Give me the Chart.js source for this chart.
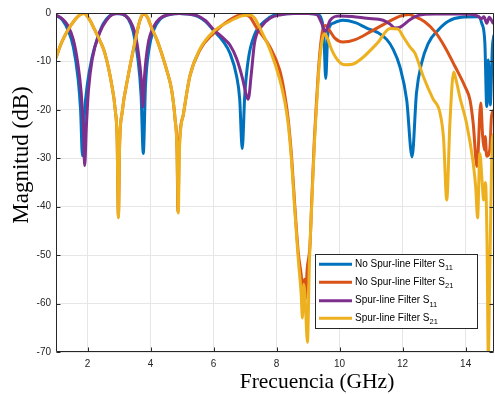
<!DOCTYPE html>
<html>
<head>
<meta charset="utf-8">
<script src="https://cdn.jsdelivr.net/npm/chart.js@4/dist/chart.umd.min.js"></script>
<style>
html,body{margin:0;padding:0;background:#fff;}
#wrap{width:495px;height:394px;}
</style>
</head>
<body>
<div id="wrap"><canvas id="c" width="495" height="394"></canvas></div>
<script>
// ---- data (frequency GHz, magnitude dB) ----
const xTicks = [2, 4, 6, 8, 10, 12, 14];
const yTicks = [-70, -60, -50, -40, -30, -20, -10, 0];
const seriesNames = ['No Spur-line Filter S', 'No Spur-line Filter S', 'Spur-line Filter S', 'Spur-line Filter S'];
const seriesSubs = ['11', '21', '11', '21'];
const xLabel = 'Frecuencia (GHz)';
const yLabel = 'Magnitud (dB)';

const noSpurS11 = [[1.0,-0.5],[1.2,-1.4],[1.4,-3.8],[1.55,-7],[1.7,-13.5],[1.78,-20],[1.84,-29.5],[1.9,-21],[2.0,-14.5],[2.15,-9],[2.3,-5.5],[2.5,-2.2],[2.7,-0.6],[2.9,-0.1],[3.1,-0.2],[3.3,-1.3],[3.45,-3.8],[3.6,-9.5],[3.7,-17],[3.77,-29],[3.84,-15],[3.95,-7.5],[4.1,-3.5],[4.3,-1.3],[4.6,-0.3],[4.9,-0.1],[5.2,-0.2],[5.5,-0.7],[5.75,-1.8],[6.0,-3.6],[6.31,-5.9],[6.52,-8.3],[6.73,-13],[6.83,-17.8],[6.91,-28],[6.99,-17],[7.1,-9.7],[7.3,-4.5],[7.6,-1.8],[7.9,-0.5],[8.5,-0.1],[9.0,-0.1],[9.3,-0.3],[9.42,-1.2],[9.5,-4.5],[9.56,-13.5],[9.62,-5],[9.7,-2.6],[9.8,-2.1],[10.1,-1.5],[10.5,-2.0],[10.86,-3.1],[11.2,-4.0],[11.5,-5.5],[11.7,-7.5],[11.91,-11],[12.13,-18],[12.3,-29.7],[12.44,-16.5],[12.6,-10.4],[12.81,-6.3],[13.13,-3.5],[13.45,-1.7],[13.87,-0.9],[14.4,-0.8],[14.51,-2.1],[14.61,-6.2],[14.67,-19.3],[14.72,-9.7],[14.78,-19],[14.85,-7],[14.9,-4.5]];

const noSpurS21 = [[1.0,-9.3],[1.17,-6.2],[1.38,-3.5],[1.6,-1.4],[1.75,-0.4],[1.89,-0.1],[2.05,-1.2],[2.23,-3.5],[2.4,-5.8],[2.55,-8.3],[2.76,-14.5],[2.88,-20],[2.94,-26],[2.98,-42],[3.02,-27],[3.1,-20.5],[3.29,-13],[3.5,-6.2],[3.66,-1.6],[3.79,-0.2],[3.9,-0.9],[4.03,-3],[4.2,-5.5],[4.35,-8.3],[4.5,-11.5],[4.67,-15.9],[4.78,-22],[4.84,-28],[4.87,-41],[4.91,-28],[5.04,-21],[5.25,-13],[5.57,-7.6],[6.0,-4.2],[6.52,-1.4],[6.93,-0.3],[7.15,-0.8],[7.37,-3.1],[7.79,-7],[8.1,-11.8],[8.25,-16.5],[8.37,-22],[8.48,-30],[8.58,-40],[8.69,-49.6],[8.78,-54],[8.84,-58],[8.88,-55],[8.92,-59],[8.97,-53],[9.06,-48],[9.12,-38],[9.2,-26],[9.27,-18],[9.35,-10],[9.45,-4],[9.55,-2.6],[9.7,-3.8],[9.85,-5.2],[10.1,-6],[10.5,-5.5],[11.0,-3.8],[11.5,-2],[11.9,-0.7],[12.2,-0.3],[12.4,-0.8],[12.7,-1.8],[13.03,-3.9],[13.34,-7],[13.66,-11],[13.98,-15.2],[14.14,-18],[14.24,-22.8],[14.36,-31.7],[14.48,-18.6],[14.54,-25.5],[14.6,-28.3],[14.62,-25.5],[14.67,-29.6],[14.77,-28],[14.82,-21.4],[14.9,-20]];

const spurS11 = [[1.0,-0.4],[1.2,-1.2],[1.37,-2.5],[1.55,-5.5],[1.69,-10.3],[1.8,-16.5],[1.87,-24],[1.91,-31.5],[1.96,-24],[2.03,-16],[2.15,-9.5],[2.39,-4],[2.6,-1.5],[2.8,-0.3],[3.0,-0.1],[3.2,-0.5],[3.35,-1.6],[3.5,-4],[3.62,-8.5],[3.71,-14],[3.76,-19.4],[3.81,-13],[3.92,-6.5],[4.1,-2.8],[4.3,-1.1],[4.6,-0.3],[4.93,-0.1],[5.2,-0.2],[5.46,-0.5],[5.75,-1.6],[6.0,-3.4],[6.31,-5.2],[6.52,-6.6],[6.73,-9.4],[6.93,-13.8],[7.04,-17],[7.1,-17.8],[7.2,-12.4],[7.3,-6.2],[7.52,-2.8],[7.79,-1.1],[8.1,-0.4],[8.6,-0.1],[9.0,-0.1],[9.27,-0.3],[9.43,-2.1],[9.54,-3.9],[9.7,-1.5],[10.0,-0.6],[10.4,-0.7],[10.86,-1.1],[11.38,-1.5],[11.6,-2.3],[11.75,-3.1],[11.9,-3.0],[12.02,-2.5],[12.23,-1.4],[12.5,-0.5],[13.0,-0.2],[13.8,-0.2],[14.2,-0.3],[14.4,-0.7],[14.5,-1.2],[14.58,-0.8],[14.67,-2.1],[14.75,-0.9],[14.82,-1.5],[14.87,-2.1],[14.9,-1.4]];

const spurS21 = [[1.0,-9.3],[1.17,-6.2],[1.38,-3.5],[1.6,-1.4],[1.75,-0.4],[1.89,-0.1],[2.05,-1.2],[2.23,-3.5],[2.4,-5.8],[2.55,-8.3],[2.76,-14.5],[2.88,-20],[2.94,-26],[2.98,-42.3],[3.02,-27],[3.1,-20.5],[3.29,-13],[3.5,-6.2],[3.66,-1.6],[3.77,-0.1],[3.9,-0.8],[4.03,-3],[4.2,-5.5],[4.35,-8.3],[4.5,-11.5],[4.67,-15.9],[4.78,-22],[4.84,-28],[4.88,-41.3],[4.92,-28],[5.04,-21],[5.25,-13],[5.57,-7.4],[6.0,-3.8],[6.52,-1.7],[6.9,-0.6],[7.15,-0.4],[7.3,-1],[7.47,-3.1],[7.79,-7.6],[8.1,-13.7],[8.25,-18],[8.37,-23],[8.48,-31],[8.58,-41],[8.69,-51],[8.78,-58],[8.82,-63],[8.86,-56],[8.9,-58],[8.98,-68],[9.04,-52],[9.12,-39],[9.2,-27],[9.27,-19],[9.35,-11],[9.45,-5.5],[9.52,-4.3],[9.6,-5],[9.75,-7.6],[9.95,-9.8],[10.17,-10.7],[10.4,-10.6],[10.7,-9.4],[11.2,-6.2],[11.6,-3.2],[11.85,-3.3],[12.02,-4.9],[12.23,-7],[12.39,-8.3],[12.65,-13],[12.96,-17.7],[13.18,-20.5],[13.3,-26],[13.4,-38.6],[13.5,-22.8],[13.62,-12.2],[13.72,-14.5],[13.82,-17.5],[14.03,-22.8],[14.24,-31],[14.32,-36],[14.38,-42.3],[14.45,-29],[14.53,-35.5],[14.57,-38.6],[14.63,-35],[14.68,-48],[14.72,-71],[14.77,-52],[14.85,-26],[14.9,-25]];

const seriesData = [noSpurS11, noSpurS21, spurS11, spurS21];
const seriesColors = ['#0072BD', '#D95319', '#7E2F8E', '#EDB120'];

// ---- chart ----
const AX = '#262626';
const datasets = seriesData.map((d, i) => ({
  label: seriesNames[i] + seriesSubs[i],
  data: d.map(p => ({x: p[0], y: p[1]})),
  borderColor: seriesColors[i],
  backgroundColor: seriesColors[i],
  borderWidth: 3,
  pointRadius: 0,
  fill: false,
  cubicInterpolationMode: 'monotone',
  order: 4 - i
}));

const decor = {
  id: 'decor',
  afterDraw(chart) {
    const ctx = chart.ctx, a = chart.chartArea;
    const xs = chart.scales.x, ys = chart.scales.y;
    ctx.save();
    // box
    ctx.strokeStyle = AX; ctx.lineWidth = 1;
    const L = Math.round(a.left) + 0.5, R = Math.round(a.right) - 0.5, T = Math.round(a.top) + 0.5, B = Math.round(a.bottom) - 0.5;
    ctx.beginPath();
    ctx.moveTo(L, T); ctx.lineTo(R, T); ctx.lineTo(R, B); ctx.lineTo(L, B); ctx.closePath();
    ctx.stroke();
    // inward ticks
    ctx.beginPath();
    xTicks.forEach(v => {
      const px = Math.round(xs.getPixelForValue(v)) + 0.5;
      ctx.moveTo(px, B); ctx.lineTo(px, B - 4);
      ctx.moveTo(px, T); ctx.lineTo(px, T + 4);
    });
    yTicks.forEach(v => {
      const py = Math.round(ys.getPixelForValue(v)) + 0.5;
      ctx.moveTo(L, py); ctx.lineTo(L + 4, py);
      ctx.moveTo(R, py); ctx.lineTo(R - 4, py);
    });
    ctx.stroke();
    // axis titles
    ctx.fillStyle = '#000';
    ctx.textAlign = 'center'; ctx.textBaseline = 'alphabetic';
    ctx.font = '21.5px "Liberation Serif", "Times New Roman", serif';
    ctx.fillText(xLabel, 317, 388);
    ctx.save();
    ctx.translate(28, 155);
    ctx.rotate(-Math.PI / 2);
    ctx.font = '23px "Liberation Serif", "Times New Roman", serif';
    ctx.fillText(yLabel, 0, 0);
    ctx.restore();
    // legend
    const bx = Math.round(a.right) - 17 - 162, by = Math.round(a.bottom) - 24 - 74, bw = 162, bh = 74;
    ctx.fillStyle = '#fff';
    ctx.fillRect(bx, by, bw, bh);
    ctx.strokeStyle = AX; ctx.lineWidth = 1;
    ctx.strokeRect(bx + 0.5, by + 0.5, bw, bh);
    const rowY = [10.3, 28.3, 46.7, 64.3];
    seriesData.forEach((d, i) => {
      const y = by + rowY[i];
      ctx.strokeStyle = seriesColors[i]; ctx.lineWidth = 3;
      ctx.beginPath(); ctx.moveTo(bx + 4, y); ctx.lineTo(bx + 37, y); ctx.stroke();
      ctx.fillStyle = '#000';
      ctx.textAlign = 'left'; ctx.textBaseline = 'middle';
      ctx.font = '10px "Liberation Sans", Arial, sans-serif';
      ctx.fillText(seriesNames[i], bx + 40, y);
      const w = ctx.measureText(seriesNames[i]).width;
      ctx.font = '7.5px "Liberation Sans", Arial, sans-serif';
      ctx.fillText(seriesSubs[i], bx + 40 + w, y + 4);
    });
    ctx.restore();
  }
};

new Chart(document.getElementById('c'), {
  type: 'line',
  data: {datasets},
  options: {
    responsive: false,
    animation: false,
    devicePixelRatio: 1,
    layout: {padding: {top: 13, right: 1, left: 0, bottom: 0}},
    plugins: {legend: {display: false}, tooltip: {enabled: false}, title: {display: false}},
    scales: {
      x: {
        type: 'linear', min: 1, max: 14.9,
        afterBuildTicks: s => { s.ticks = xTicks.map(v => ({value: v})); },
        afterFit: s => { s.height = 42; },
        grid: {color: '#e6e6e6', lineWidth: 1, drawTicks: false},
        border: {display: false},
        ticks: {color: AX, padding: 6, font: {family: '"Liberation Sans", Arial, sans-serif', size: 10}}
      },
      y: {
        type: 'linear', min: -70, max: 0,
        afterBuildTicks: s => { s.ticks = yTicks.map(v => ({value: v})); },
        afterFit: s => { s.width = 56; },
        grid: {color: '#e6e6e6', lineWidth: 1, drawTicks: false},
        border: {display: false},
        ticks: {color: AX, padding: 5, font: {family: '"Liberation Sans", Arial, sans-serif', size: 10}}
      }
    }
  },
  plugins: [decor]
});
</script>
</body>
</html>
